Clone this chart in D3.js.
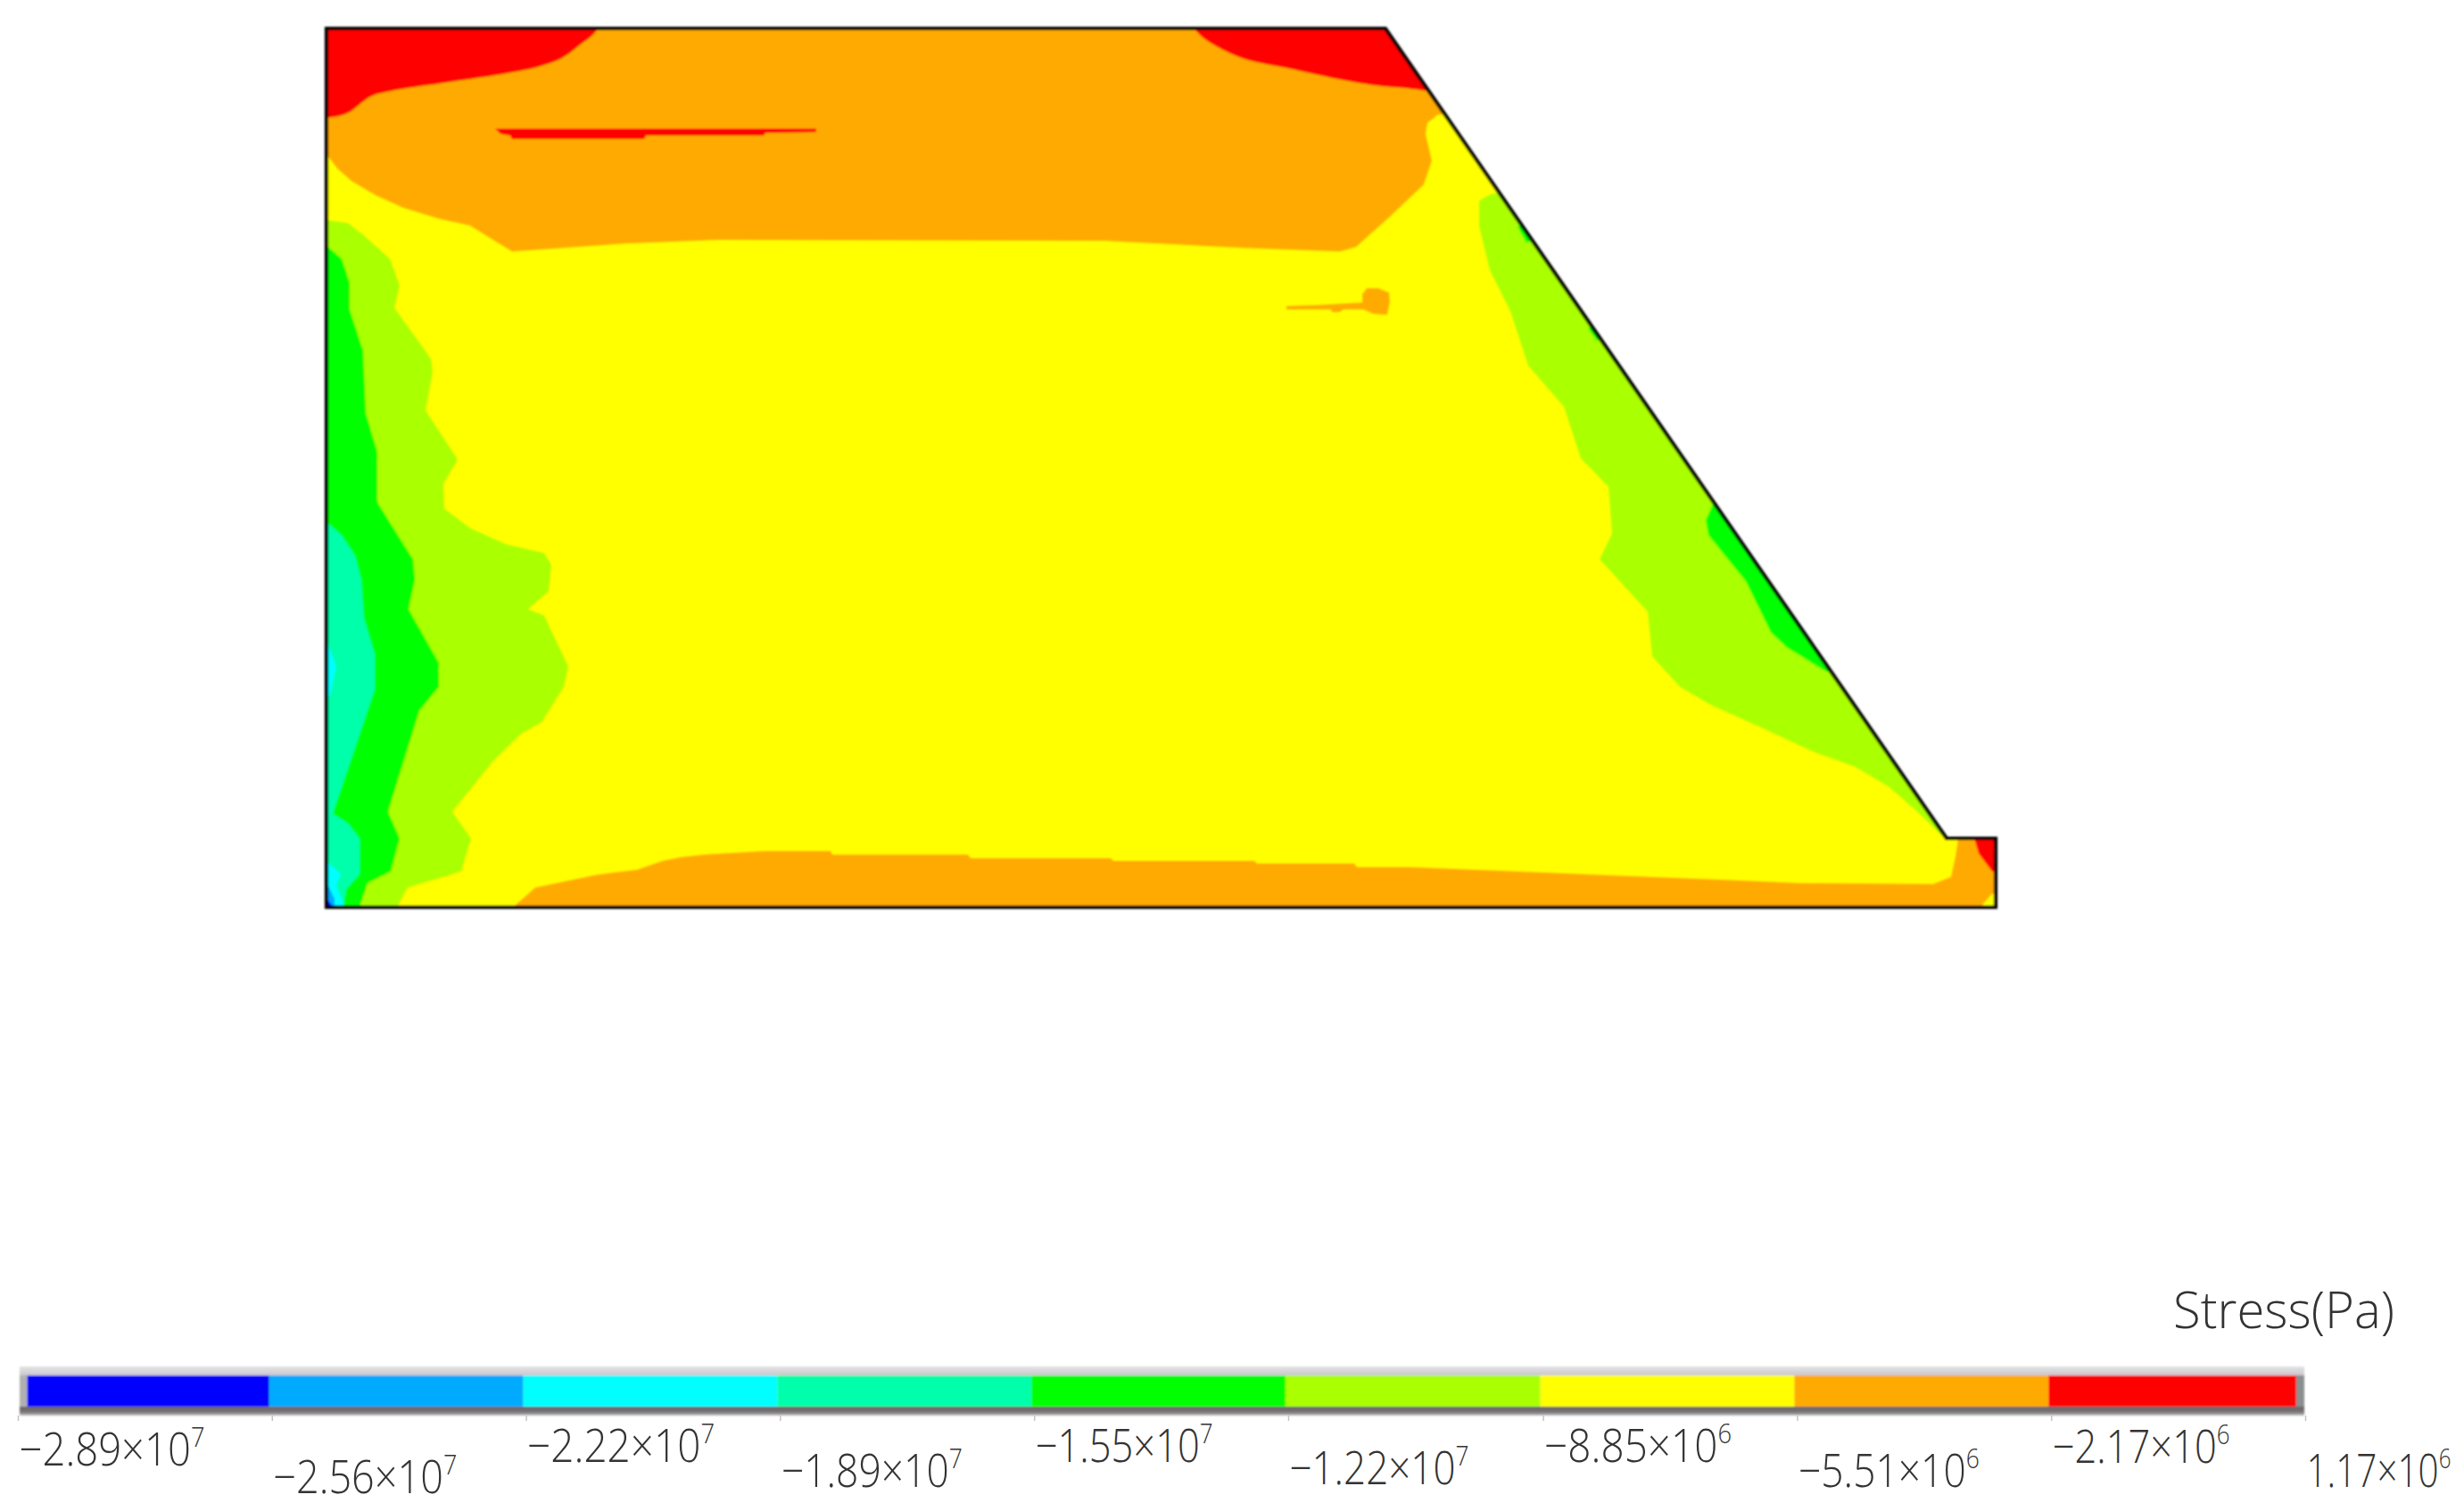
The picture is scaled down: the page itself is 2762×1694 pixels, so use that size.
<!DOCTYPE html>
<html>
<head>
<meta charset="utf-8">
<style>
  html, body { margin: 0; padding: 0; background: #fff; }
</style>
<script src="https://d3js.org/d3.v7.min.js"></script>
</head>
<body>
<div id="chart"></div>
<script>
// contour levels and band colours, lowest to highest
var stressLevels = [-2.89e7, -2.556e7, -2.222e7, -1.888e7, -1.554e7, -1.22e7, -8.85e6, -5.51e6, -2.17e6, 1.17e6];
var stressTickMantissa = ['\u22122.89', '\u22122.56', '\u22122.22', '\u22121.89', '\u22121.55', '\u22121.22', '\u22128.85', '\u22125.51', '\u22122.17', '1.17'];
var stressTickExponent = ['7', '7', '7', '7', '7', '7', '6', '6', '6', '6'];
var bandColors = ['#0000ff', '#00aaff', '#00ffff', '#00ffaa', '#00ff00', '#aaff00', '#ffff00', '#ffaa00', '#ff0000'];

// section outline, model units from the top left corner
var outline = [[0, 0], [1187, 0], [1816, 908], [1871, 908], [1871, 985], [0, 985]];

// contour regions, painted in this order
var limeLeft = [[0, 215], [2, 215], [24, 218], [41, 231], [71, 258], [82, 288], [76, 313], [117, 370], [119, 385], [111, 428], [147, 483], [131, 511], [132, 538], [161, 560], [201, 578], [244, 588], [252, 601], [249, 631], [226, 651], [244, 658], [271, 715], [266, 738], [241, 778], [219, 790], [187, 821], [141, 878], [162, 908], [151, 945], [91, 963], [79, 985], [0, 985]];
var greenLeft = [[0, 245], [2, 245], [17, 258], [26, 285], [26, 315], [41, 361], [44, 431], [57, 475], [57, 531], [97, 595], [99, 618], [92, 651], [126, 711], [126, 738], [104, 765], [69, 878], [82, 908], [72, 945], [46, 958], [37, 985], [0, 985]];
var tealLeft = [[0, 555], [2, 555], [17, 568], [32, 591], [39, 618], [42, 661], [54, 701], [54, 741], [7, 880], [24, 891], [37, 908], [37, 948], [22, 965], [19, 985], [0, 985]];
var cyanMid = [[0, 691], [2, 691], [11, 715], [4, 748], [0, 748]];
var cyanCorner = [[0, 935], [2, 935], [16, 948], [11, 961], [19, 981], [19, 985], [0, 985]];
var skyCorner = [[0, 961], [2, 961], [9, 976], [9, 985], [0, 985]];
var blueCorner = [[0, 975], [1, 976], [6, 983], [6, 985], [0, 985]];
var limeSlope = [[1306, 185], [1292, 193], [1292, 222], [1304, 271], [1327, 317], [1347, 378], [1387, 424], [1406, 482], [1437, 514], [1441, 566], [1427, 595], [1481, 654], [1486, 704], [1517, 738], [1551, 758], [1611, 785], [1667, 811], [1714, 828], [1751, 850], [1781, 876], [1814, 908], [1816, 906], [1500, 185]];
var greenSlope = [[1554, 533], [1546, 551], [1549, 568], [1591, 620], [1619, 677], [1637, 694], [1681, 721], [1720, 721], [1600, 533]];
var greenSpeckA = [[1335, 222], [1345, 240], [1360, 235], [1350, 215]];
var greenSpeckB = [[1414, 336], [1424, 350], [1440, 345], [1425, 330]];
var orangeTop = [[0, 141], [12, 157], [28, 171], [55, 187], [86, 201], [125, 213], [161, 221], [185, 236], [208, 250], [237, 248], [336, 241], [438, 237], [873, 238], [969, 243], [1027, 246], [1136, 250], [1154, 245], [1192, 211], [1230, 175], [1239, 148], [1232, 118], [1234, 106], [1245, 97], [1300, 90], [1300, 0], [0, 0]];
var redCrestLeft = [[304, -20], [304, 0], [282, 20], [264, 33], [237, 43], [197, 51], [130, 61], [72, 70], [50, 76], [23, 95], [1, 100], [-20, 100], [-20, -20]];
var redCrestRight = [[973, -20], [973, 0], [1018, 30], [1085, 46], [1152, 60], [1201, 66], [1300, 65], [1300, -20]];
var redSliver = [[189, 112], [549, 112], [549, 116], [492, 117], [490, 120], [358, 120], [356, 124], [208, 124], [206, 120], [195, 118]];
var orangePatch = [[1076, 311], [1109, 310], [1161, 307], [1161, 298], [1166, 291], [1179, 291], [1191, 296], [1192, 306], [1189, 321], [1174, 320], [1162, 315], [1139, 315], [1136, 318], [1127, 318], [1126, 315], [1076, 315]];
var orangeBase = [[209, 985], [234, 963], [301, 949], [323, 946], [348, 943], [377, 933], [397, 929], [423, 926], [492, 922], [565, 922], [567, 926], [719, 926], [722, 930], [879, 930], [882, 933], [1040, 933], [1043, 936], [1152, 936], [1155, 940], [1214, 940], [1534, 953], [1584, 955], [1652, 958], [1801, 959], [1821, 951], [1826, 928], [1829, 908], [1871, 908], [1871, 985]];
var redToe = [[1847, 908], [1852, 925], [1867, 945], [1871, 945], [1871, 908]];
var yellowToe = [[1867, 970], [1854, 985], [1871, 985], [1871, 970]];

var regions = [
  { pts: limeLeft, band: 5 }, { pts: greenLeft, band: 4 }, { pts: tealLeft, band: 3 },
  { pts: cyanMid, band: 2 }, { pts: cyanCorner, band: 2 }, { pts: skyCorner, band: 1 }, { pts: blueCorner, band: 0 },
  { pts: limeSlope, band: 5 }, { pts: greenSlope, band: 4 }, { pts: greenSpeckA, band: 4 }, { pts: greenSpeckB, band: 4 },
  { pts: orangeTop, band: 7 }, { pts: redCrestLeft, band: 8, smooth: true }, { pts: redCrestRight, band: 8, smooth: true }, { pts: redSliver, band: 8 },
  { pts: orangePatch, band: 7 }, { pts: orangeBase, band: 7 }, { pts: redToe, band: 8 }, { pts: yellowToe, band: 6 }
];

var svg = d3.select('#chart').append('svg')
  .attr('width', 2762)
  .attr('height', 1694)
  .style('display', 'block');

var defs = svg.append('defs');
defs.append('filter').attr('id', 'soft')
  .append('feGaussianBlur').attr('stdDeviation', 0.8);

var x = d3.scaleLinear().domain([0, 1871]).range([366, 2237]);
var y = d3.scaleLinear().domain([0, 985]).range([32, 1017]);
var shape = d3.line()
  .x(function (d) { return x(d[0]); })
  .y(function (d) { return y(d[1]); })
  .curve(d3.curveLinearClosed);
var smoothShape = d3.line()
  .x(function (d) { return x(d[0]); })
  .y(function (d) { return y(d[1]); })
  .curve(d3.curveCatmullRomClosed.alpha(0.5));

defs.append('clipPath').attr('id', 'section')
  .append('path').attr('d', shape(outline));

var plot = svg.append('g').attr('filter', 'url(#soft)');
var inside = plot.append('g').attr('clip-path', 'url(#section)');

// everything not covered by a region is the yellow band
inside.append('path').attr('d', shape(outline)).attr('fill', bandColors[6]);

inside.selectAll('path.region')
  .data(regions).enter().append('path')
  .attr('class', 'region')
  .attr('d', function (d) { return d.smooth ? smoothShape(d.pts) : shape(d.pts); })
  .attr('fill', function (d) { return bandColors[d.band]; });

plot.append('path')
  .attr('d', shape(outline))
  .attr('fill', 'none')
  .attr('stroke', '#000')
  .attr('stroke-width', 4.2)
  .attr('stroke-linejoin', 'miter');

// colour bar
var barTop = 1542, barBottom = 1577;
var scaleBar = d3.scaleLinear()
  .domain([stressLevels[0], stressLevels[stressLevels.length - 1]])
  .range([20, 2584]);

var bar = svg.append('g').attr('filter', 'url(#soft)');
var gTop = defs.append('linearGradient').attr('id', 'bevelTop').attr('x1', 0).attr('y1', 0).attr('x2', 0).attr('y2', 1);
gTop.append('stop').attr('offset', 0).attr('stop-color', '#e4e4e4');
gTop.append('stop').attr('offset', 1).attr('stop-color', '#cbc6cc');
var gBot = defs.append('linearGradient').attr('id', 'bevelBottom').attr('x1', 0).attr('y1', 0).attr('x2', 0).attr('y2', 1);
gBot.append('stop').attr('offset', 0).attr('stop-color', '#6b6668');
gBot.append('stop').attr('offset', 0.6).attr('stop-color', '#777377');
gBot.append('stop').attr('offset', 1).attr('stop-color', '#c4c4c4');

bar.append('rect').attr('x', 22).attr('y', 1532).attr('width', 8.5).attr('height', 55).attr('fill', '#b0b0b0');
bar.append('rect').attr('x', 2574).attr('y', 1532).attr('width', 9).attr('height', 55).attr('fill', '#8a8f8f');
bar.append('rect').attr('x', 22).attr('y', 1532).attr('width', 2561).attr('height', barTop - 1532).attr('fill', 'url(#bevelTop)');
bar.append('rect').attr('x', 22).attr('y', barBottom).attr('width', 2561).attr('height', 10).attr('fill', 'url(#bevelBottom)');

bar.selectAll('rect.band')
  .data(bandColors).enter().append('rect')
  .attr('class', 'band')
  .attr('x', function (d, i) { return i === 0 ? 30.5 : scaleBar(stressLevels[i]) - 3; })
  .attr('y', barTop)
  .attr('width', function (d, i) {
    var left = i === 0 ? 30.5 : scaleBar(stressLevels[i]) - 3;
    var right = i === 8 ? 2574 : scaleBar(stressLevels[i + 1]) - 3;
    return right - left;
  })
  .attr('height', barBottom - barTop)
  .attr('fill', function (d) { return d; });

// tick marks come from the axis, labels are staggered by hand like the original
var labelBaseline = [1643, 1674, 1639, 1667, 1639, 1664, 1639, 1667, 1640, 1667];
var labelWidth = [208, 206, 210, 203, 199, 201, 210, 203, 199, 162];

var axis = d3.axisBottom(scaleBar)
  .tickValues(stressLevels)
  .tickSize(6)
  .tickFormat('');

var axisG = svg.append('g')
  .attr('transform', 'translate(0,1587)')
  .call(axis);
axisG.select('.domain').remove();
axisG.selectAll('.tick line').attr('stroke', '#c4c4c4').attr('stroke-width', 1.5);

var labels = svg.append('g').attr('class', 'tick-labels');
var label = labels.selectAll('text')
  .data(stressLevels).enter().append('text')
  .attr('font-family', '"Open Sans", sans-serif')
  .attr('font-weight', 300)
  .attr('font-size', 52)
  .attr('fill', '#333');
label.append('tspan').text(function (d, i) { return stressTickMantissa[i] + '\u00d710'; });
label.append('tspan')
  .attr('font-size', 31)
  .attr('dy', -21)
  .text(function (d, i) { return stressTickExponent[i]; });
// squeeze each label to the width it has in the picture
label.attr('transform', function (d, i) {
  var squeeze = labelWidth[i] / this.getComputedTextLength();
  return 'translate(' + (scaleBar(d) + 1.5) + ',' + labelBaseline[i] + ') scale(' + squeeze + ',1)';
});

svg.append('text')
  .attr('transform', 'translate(2436,1489) scale(0.97,1)')
  .attr('font-family', '"Open Sans", sans-serif')
  .attr('font-weight', 300)
  .attr('font-size', 58)
  .attr('fill', '#333')
  .text('Stress(Pa)');
</script>
</body>
</html>
